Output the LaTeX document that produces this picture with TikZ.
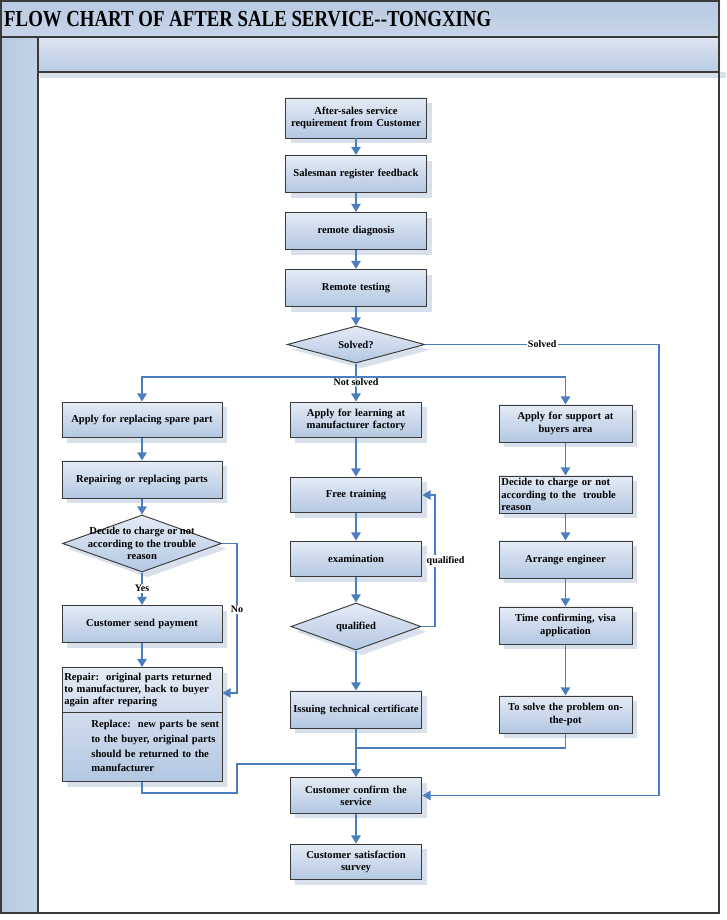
\documentclass[tikz,border=0pt]{standalone}
\usepackage{fontspec}
\setmainfont{Liberation Serif}
\newfontfamily\titlefont[FakeStretch=0.82]{Liberation Serif}
\usepackage{xcolor}
\usetikzlibrary{shapes.geometric, shapes.multipart, arrows.meta, shadows}

\definecolor{boxtop}{HTML}{E4EBF5}
\definecolor{boxbot}{HTML}{B3C7E2}
\definecolor{boxline}{HTML}{3A3A3A}
\definecolor{shadowc}{HTML}{D8E0EC}
\definecolor{linkc}{HTML}{4A7EBF}
\definecolor{bandc}{HTML}{B8CAE2}
\definecolor{bandlt}{HTML}{DCE4F0}

\begin{document}
\begin{tikzpicture}[
    x=0.85pt, y=-0.85pt,
    stage/.style = {rectangle, draw=boxline, line width=0.8pt, top color=boxtop, bottom color=boxbot,
        drop shadow={shadow xshift=4.5pt, shadow yshift=-4.5pt, fill=shadowc, opacity=1},
        font=\fontsize{9}{10.5}\selectfont\bfseries, align=center, inner sep=2pt, minimum height=31.5pt},
    decision/.style = {diamond, aspect=3, draw=boxline, line width=0.8pt, top color=boxtop, bottom color=boxbot,
        drop shadow={shadow xshift=4.5pt, shadow yshift=-4.5pt, fill=shadowc, opacity=1},
        font=\fontsize{9}{10.5}\selectfont\bfseries, inner sep=0pt},
    dtext/.style = {font=\fontsize{9}{10.5}\selectfont\bfseries, align=center},
    colC/.style = {text width=116pt},
    colL/.style = {text width=132pt},
    colM/.style = {text width=108pt},
    colR/.style = {text width=109pt},
    arrow/.style = {draw=linkc, line width=1.5pt, -{Triangle[width=8pt, length=7pt]}},
    link/.style = {draw=linkc, line width=1.5pt},
    tag/.style = {font=\fontsize{8.5}{10}\selectfont\bfseries, inner sep=1pt, fill=white}
]
    \useasboundingbox (0,0) rectangle (726,920);

    % Frame
    \shade [top color=bandc, bottom color=bandc!80!white] (0,0) rectangle (720,37);
    \shade [left color=bandc, right color=bandc!85!white] (0,37) rectangle (38,913);
    \fill [shadowc] (40,72) rectangle (726,78);
    \shade [top color=bandlt, bottom color=bandc] (38,39) rectangle (720,72);
    \draw [boxline, line width=1pt] (1,1) rectangle (719,913);
    \draw [boxline, line width=1pt] (1,37) -- (719,37);
    \draw [boxline, line width=1pt] (38,37) -- (38,913);
    \draw [boxline, line width=1.5pt] (38,72) -- (719,72);
    \node (title) [anchor=west, inner sep=0pt, font=\titlefont\bfseries\fontsize{19.5}{22}\selectfont] at (4,19)
        {FLOW CHART OF AFTER SALE SERVICE-{}-TONGXING};

    % Nodes
    \node (request) [stage, colC, minimum height=34pt] at (356,118) {After-sales service\\requirement from Customer};
    \node (register) [stage, colC] at (356,174) {Salesman register feedback};
    \node (diagnose) [stage, colC] at (356,231) {remote diagnosis};
    \node (testing) [stage, colC] at (356,288) {Remote testing};
    \node (solved) [decision, minimum width=117pt, minimum height=31.5pt] at (356,344.5) {Solved?};

    \node (spare) [stage, colL, minimum height=30.5pt] at (142,420) {Apply for replacing spare part};
    \node (repairing) [stage, colL] at (142,479.5) {Repairing or replacing parts};
    \node (chargeL) [decision, minimum width=135pt, minimum height=48.5pt,
        label={[dtext]center:{Decide to charge or not\\according to the trouble\\reason}}] at (142,543.5) {};
    \node (payment) [stage, colL] at (142,624) {Customer send payment};
    \node (repair) [stage, colL, rectangle split, rectangle split parts=2, align=left, inner ysep=4pt] at (142,724.5)
        {Repair:~~original parts returned\\to manufacturer, back to buyer\\again after reparing
         \nodepart{two}\hspace*{23pt}\fontsize{9}{12.5}\selectfont\begin{tabular}[t]{@{}l@{}}Replace:~~new parts be sent\\to the buyer, original parts\\should be returned to the\\manufacturer\end{tabular}};

    \node (learn) [stage, colM, minimum height=30.5pt] at (356,420) {Apply for learning at\\manufacturer factory};
    \node (training) [stage, colM, minimum height=30.5pt] at (356,495) {Free training};
    \node (exam) [stage, colM, minimum height=30.5pt] at (356,559) {examination};
    \node (qualified) [decision, minimum width=110.5pt, minimum height=40pt] at (356,626.5) {qualified};
    \node (certificate) [stage, colM] at (356,709.5) {Issuing technical certificate};
    \node (confirm) [stage, colM, minimum height=30pt] at (356,795.5) {Customer confirm the\\service};
    \node (survey) [stage, colM, minimum height=30.5pt] at (356,862) {Customer satisfaction\\survey};

    \node (support) [stage, colR] at (565.5,423.5) {Apply for support at\\buyers area};
    \node (chargeR) [stage, colR, align=left] at (565.5,494.5) {Decide to charge or not\\according to the~~trouble\\reason};
    \node (engineer) [stage, colR] at (565.5,559.5) {Arrange engineer};
    \node (visa) [stage, colR] at (565.5,625.5) {Time confirming, visa\\application};
    \node (onsite) [stage, colR] at (565.5,714.5) {To solve the problem on-\\the-pot};

    % Turning points
    \coordinate (split) at (356,377);
    \coordinate (solvedturn) at (659,344.5);
    \coordinate (noturn) at (237,693);
    \coordinate (retturn) at (237,793);
    \coordinate (mergeL) at (356,764);
    \coordinate (mergeR) at (356,748);
    \coordinate (loop) at (435,626.5);

    % Arrows
    \draw [arrow] (request) -- (register);
    \draw [arrow] (register) -- (diagnose);
    \draw [arrow] (diagnose) -- (testing);
    \draw [arrow] (testing) -- (solved);
    \draw [arrow] (solved) -- node[tag] {Solved} (solvedturn) |- (confirm);
    \draw [link] (solved) -- (split);
    \draw [arrow] (split) -| (spare);
    \draw [arrow] (split) -| (support);
    \draw [arrow] (split) -- node[tag, below, pos=0, fill opacity=0.6, text opacity=1] {Not solved} (learn);

    \draw [arrow] (spare) -- (repairing);
    \draw [arrow] (repairing) -- (chargeL);
    \draw [arrow] (chargeL) -- node[tag] {Yes} (payment);
    \draw [arrow] (chargeL) -| node[tag, pos=0.72] {No} (noturn) -- (repair.east |- noturn);
    \draw [arrow] (payment) -- (repair);
    \draw [link] (repair) |- (retturn) |- (mergeL);

    \draw [arrow] (learn) -- (training);
    \draw [arrow] (training) -- (exam);
    \draw [arrow] (exam) -- (qualified);
    \draw [arrow] (qualified) -- (loop) |- node[tag, pos=0.25, xshift=9pt] {qualified} (training);
    \draw [arrow] (qualified) -- (certificate);
    \draw [arrow] (certificate) -- (confirm);
    \draw [arrow] (confirm) -- (survey);

    \draw [arrow] (support) -- (chargeR);
    \draw [arrow] (chargeR) -- (engineer);
    \draw [arrow] (engineer) -- (visa);
    \draw [arrow] (visa) -- (onsite);
    \draw [link] (onsite) |- (mergeR);

\end{tikzpicture}
\end{document}
